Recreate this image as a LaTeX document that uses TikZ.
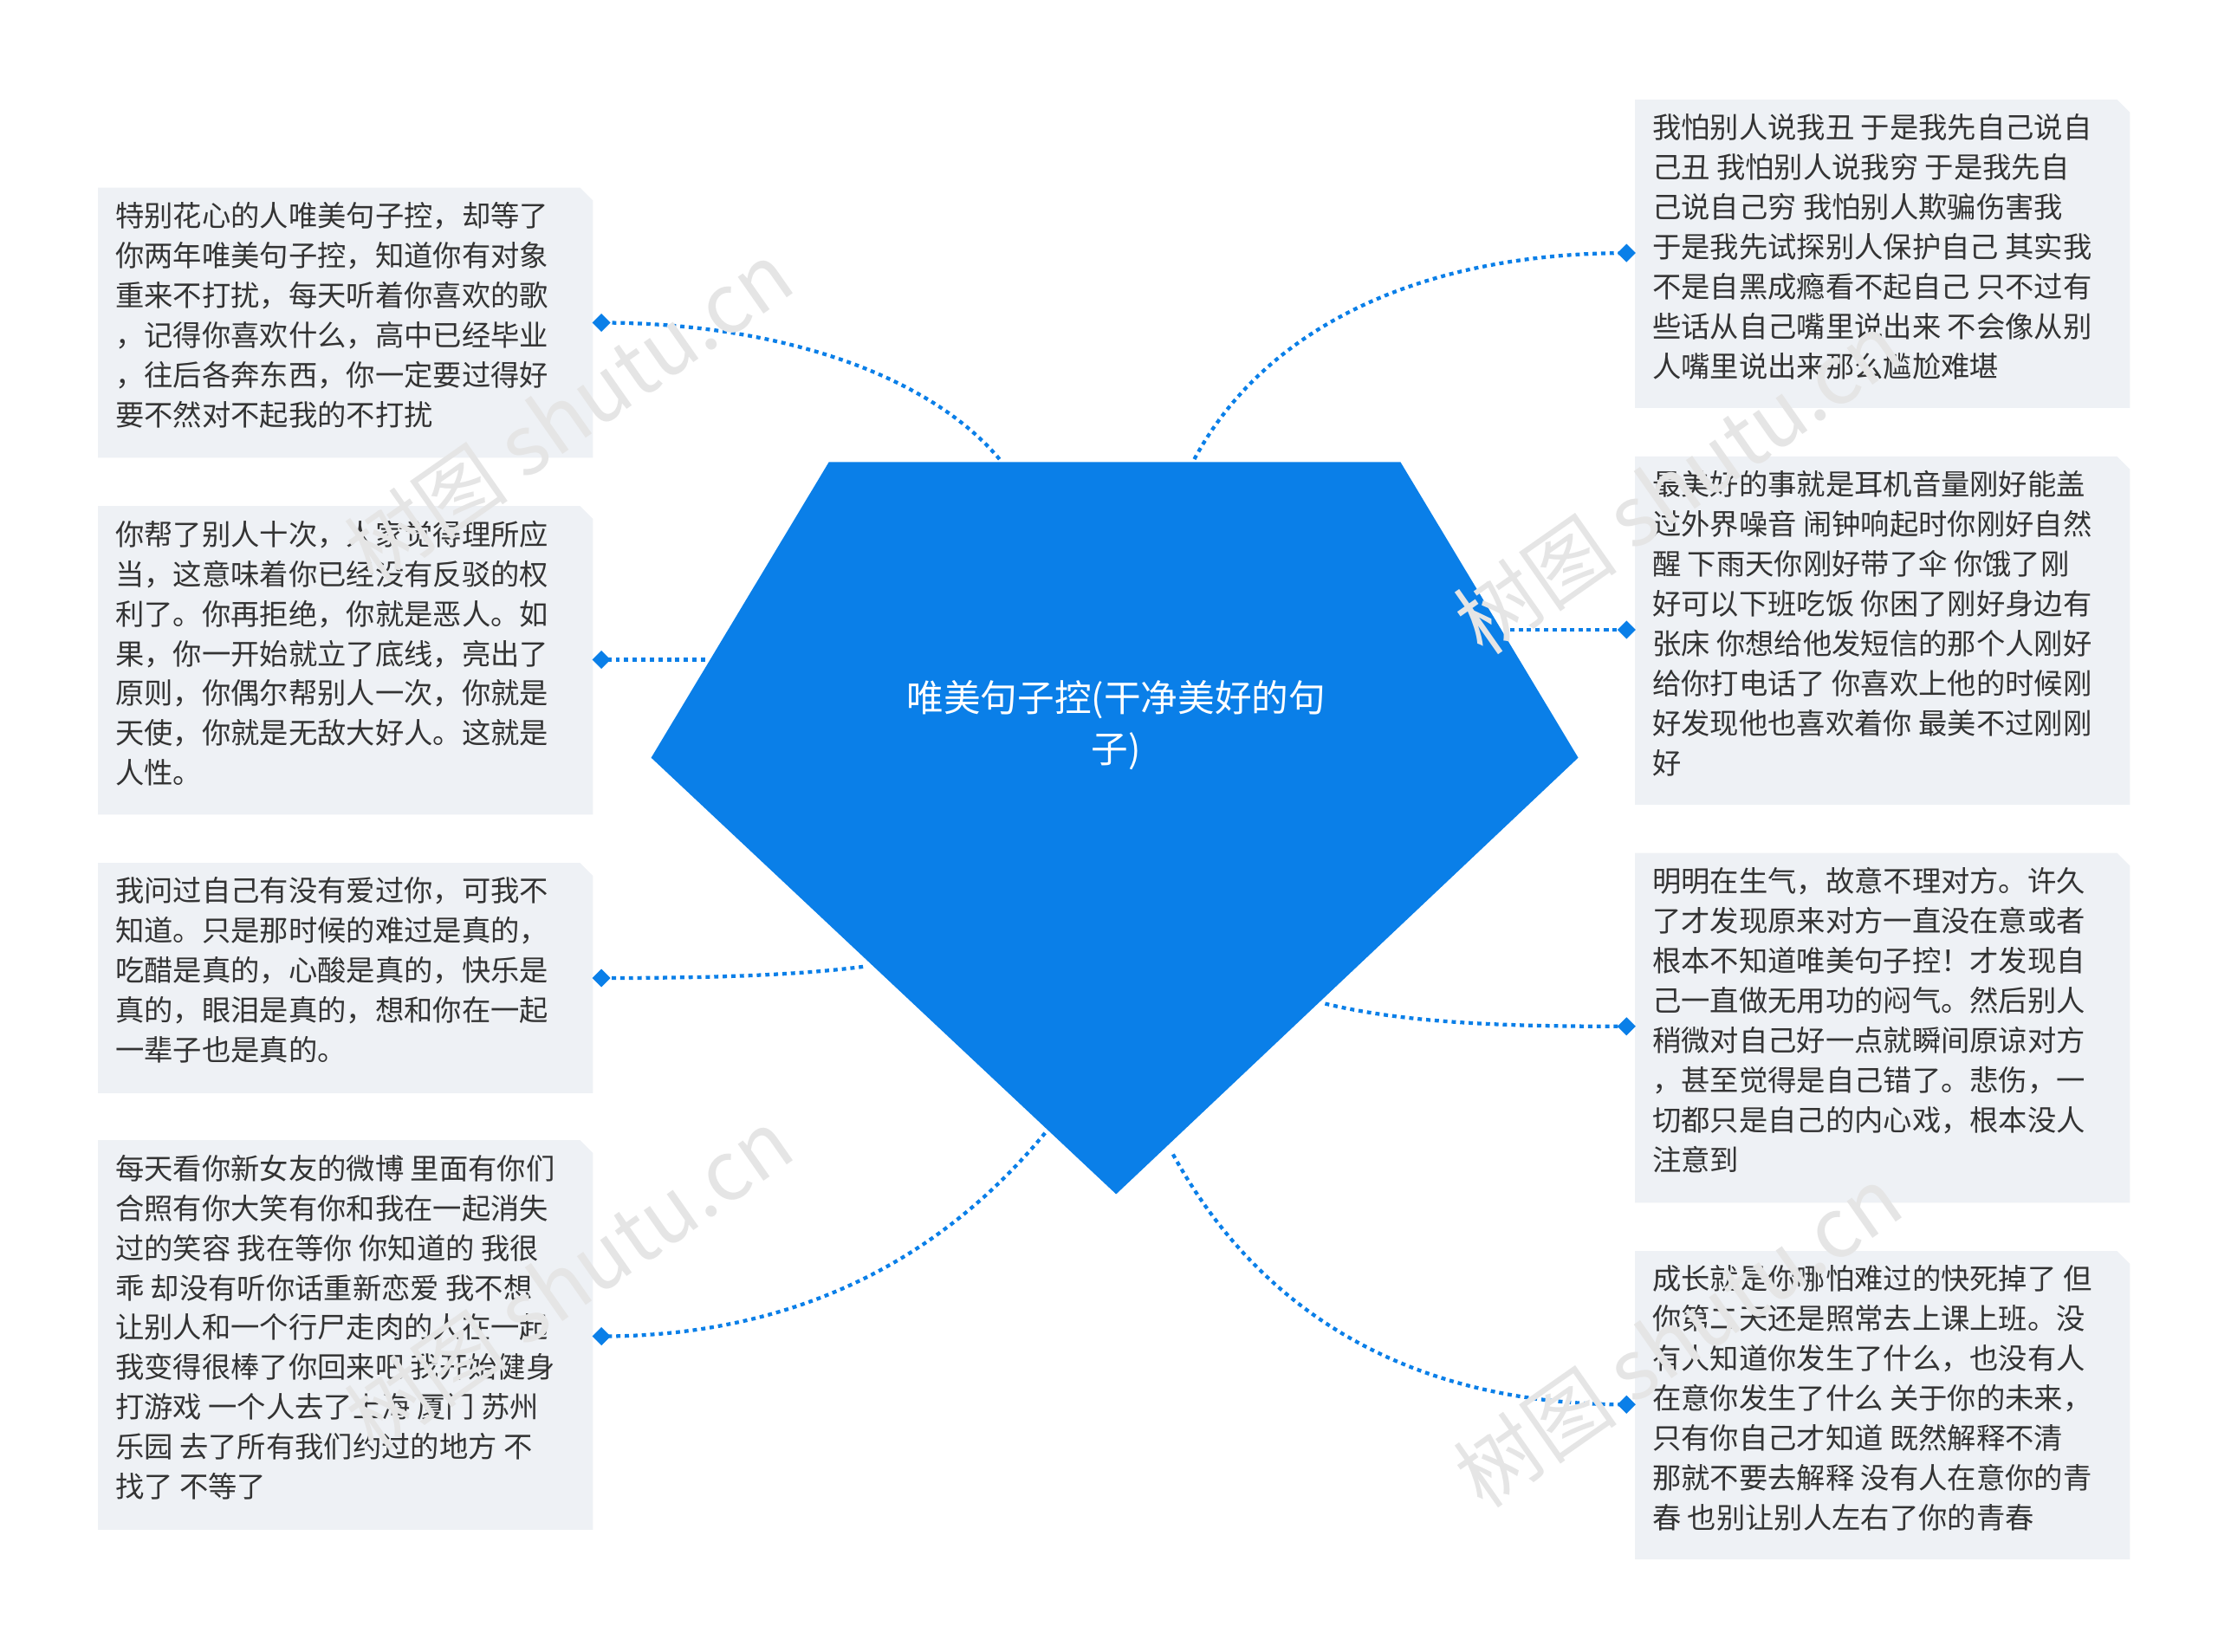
\documentclass[tikz,border=0pt]{standalone}
\usepackage{fontspec}
\newfontfamily\cjk{Noto Sans CJK SC}
\usetikzlibrary{shapes.geometric}
\definecolor{mainblue}{HTML}{0A7FE8}
\definecolor{boxfill}{HTML}{EEF1F5}
\definecolor{txt}{HTML}{333333}
\tikzset{
 leaf/.style={anchor=north west,align=left,font=\cjk\fontsize{20.3}{28}\selectfont,text=txt,inner sep=0pt},
 link/.style={draw=mainblue,line width=2.6pt,dash pattern=on 3pt off 3pt},
 tip/.style={diamond,fill=mainblue,inner sep=0pt,minimum size=13pt},
 wm/.style={font=\cjk\fontsize{58}{58}\selectfont,text=black!10,rotate=35}
}
\newcommand{\leafbox}[4]{\fill[boxfill] (#1,#2) -- (#3-9,#2) -- (#3,#2+9) -- (#3,#4) -- (#1,#4) -- cycle;}
\begin{document}
\begin{tikzpicture}[x=1pt,y=-1pt]
\useasboundingbox (0,0) rectangle (1560,1161.5);
\fill[mainblue] (583,325) -- (985,325) -- (1110,533) -- (785,840) -- (458,533) -- cycle;
\node[align=center,text=white,font=\cjk\fontsize{26}{36}\selectfont] (root) at (785,510) {唯美句子控(干净美好的句\\子)};
\leafbox{69}{132}{417}{322}
\leafbox{69}{356}{417}{573}
\leafbox{69}{607}{417}{769}
\leafbox{69}{802}{417}{1076}
\leafbox{1150}{70}{1498}{287}
\leafbox{1150}{321}{1498}{566}
\leafbox{1150}{600}{1498}{846}
\leafbox{1150}{880}{1498}{1097}
\node[leaf] (l1) at (81,142) {特别花心的人唯美句子控，却等了\\你两年唯美句子控，知道你有对象\\重来不打扰，每天听着你喜欢的歌\\，记得你喜欢什么，高中已经毕业\\，往后各奔东西，你一定要过得好\\要不然对不起我的不打扰};
\node[leaf] (l2) at (81,366) {你帮了别人十次，人家觉得理所应\\当，这意味着你已经没有反驳的权\\利了。你再拒绝，你就是恶人。如\\果，你一开始就立了底线，亮出了\\原则，你偶尔帮别人一次，你就是\\天使，你就是无敌大好人。这就是\\人性。};
\node[leaf] (l3) at (81,617) {我问过自己有没有爱过你，可我不\\知道。只是那时候的难过是真的，\\吃醋是真的，心酸是真的，快乐是\\真的，眼泪是真的，想和你在一起\\一辈子也是真的。};
\node[leaf] (l4) at (81,812) {每天看你新女友的微博 里面有你们\\合照有你大笑有你和我在一起消失\\过的笑容 我在等你 你知道的 我很\\乖 却没有听你话重新恋爱 我不想\\让别人和一个行尸走肉的人在一起\\我变得很棒了你回来吧 我开始健身\\ 打游戏 一个人去了上海 厦门 苏州\\乐园 去了所有我们约过的地方 不\\找了 不等了};
\node[leaf] (r1) at (1162,80) {我怕别人说我丑 于是我先自己说自\\己丑 我怕别人说我穷 于是我先自\\己说自己穷 我怕别人欺骗伤害我\\于是我先试探别人保护自己 其实我\\不是自黑成瘾看不起自己 只不过有\\些话从自己嘴里说出来 不会像从别\\人嘴里说出来那么尴尬难堪};
\node[leaf] (r2) at (1162,331) {最美好的事就是耳机音量刚好能盖\\过外界噪音 闹钟响起时你刚好自然\\醒 下雨天你刚好带了伞 你饿了刚\\好可以下班吃饭 你困了刚好身边有\\张床 你想给他发短信的那个人刚好\\给你打电话了 你喜欢上他的时候刚\\好发现他也喜欢着你 最美不过刚刚\\好};
\node[leaf] (r3) at (1162,610) {明明在生气，故意不理对方。许久\\了才发现原来对方一直没在意或者\\根本不知道唯美句子控！才发现自\\己一直做无用功的闷气。然后别人\\稍微对自己好一点就瞬间原谅对方\\，甚至觉得是自己错了。悲伤，一\\切都只是自己的内心戏，根本没人\\注意到};
\node[leaf] (r4) at (1162,890) {成长就是你哪怕难过的快死掉了 但\\你第二天还是照常去上课上班。没\\有人知道你发生了什么，也没有人\\在意你发生了什么 关于你的未来，\\只有你自己才知道 既然解释不清\\那就不要去解释 没有人在意你的青\\春 也别让别人左右了你的青春};
\coordinate (s1) at (703,323); \coordinate (d1) at (423,227);
\coordinate (s2) at (496,464); \coordinate (d2) at (423,464);
\coordinate (s3) at (607,680); \coordinate (d3) at (423,688);
\coordinate (s4) at (735,797); \coordinate (d4) at (423,940);
\coordinate (t1) at (840,323); \coordinate (e1) at (1144,178);
\coordinate (t2) at (1062,443); \coordinate (e2) at (1144,443);
\coordinate (t3) at (932,706); \coordinate (e3) at (1144,722);
\coordinate (t4) at (825,812); \coordinate (e4) at (1144,988);
\draw[link] (s1) .. controls (650,260) and (540,227) .. (d1);
\draw[link] (s2) -- (d2);
\draw[link] (s3) .. controls (560,686) and (500,688) .. (d3);
\draw[link] (s4) .. controls (650,900) and (540,940) .. (d4);
\draw[link] (t1) .. controls (890,230) and (1000,178) .. (e1);
\draw[link] (t2) .. controls (1100,443) and (1120,443) .. (e2);
\draw[link] (t3) .. controls (990,720) and (1060,722) .. (e3);
\draw[link] (t4) .. controls (890,930) and (1000,988) .. (e4);
\foreach \p in {d1,d2,d3,d4,e1,e2,e3,e4} \node[tip] at (\p) {};
\node[wm] at (400,290) {树图 shutu.cn};
\node[wm] at (400,900) {树图 shutu.cn};
\node[wm] at (1180,340) {树图 shutu.cn};
\node[wm] at (1180,940) {树图 shutu.cn};
\end{tikzpicture}
\end{document}
